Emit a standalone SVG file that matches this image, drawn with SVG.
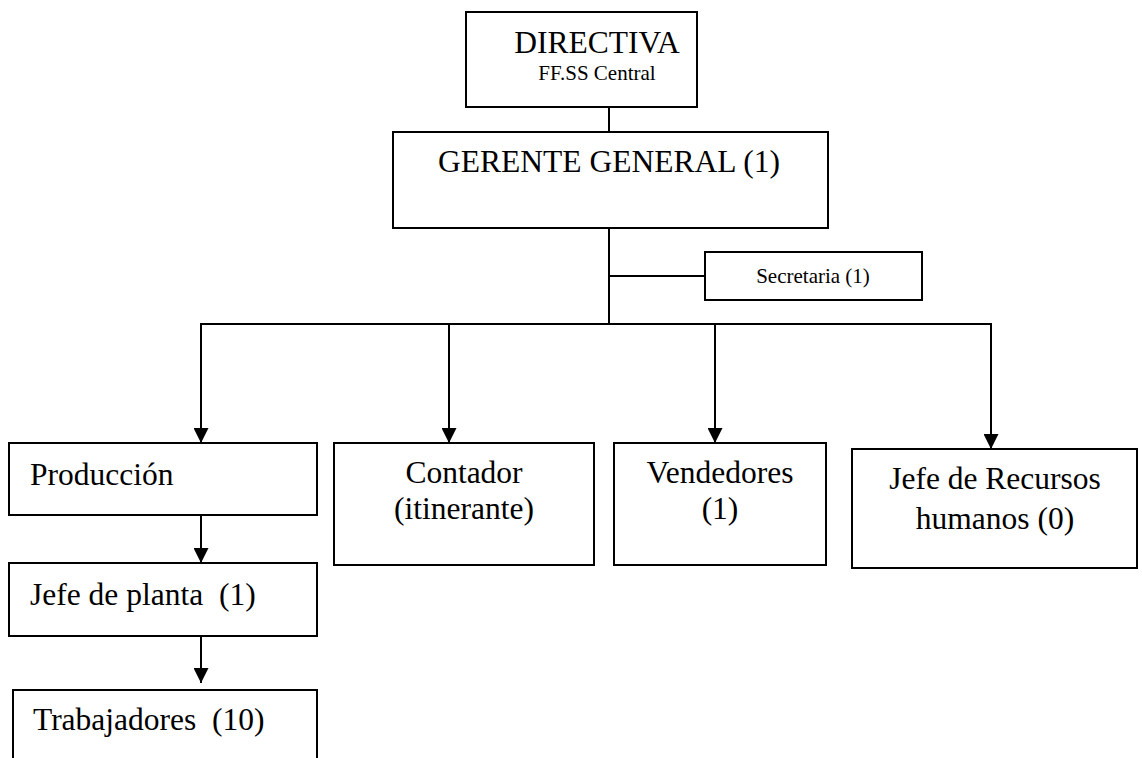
<svg xmlns="http://www.w3.org/2000/svg" width="1142" height="758" viewBox="0 0 1142 758">
<style>
.box{fill:#fff;stroke:#000;stroke-width:2}
.ln{fill:none;stroke:#000;stroke-width:2}
.t{font-family:"Liberation Serif","Times New Roman",serif;font-size:31.5px;fill:#000}
.s{font-family:"Liberation Serif","Times New Roman",serif;font-size:21px;fill:#000}
.m{text-anchor:middle}
</style>
<defs>
<marker id="arr" viewBox="0 0 10 10" refX="10" refY="5" markerWidth="15" markerHeight="15" markerUnits="userSpaceOnUse" orient="auto">
<path d="M0,0 L10,5 L0,10 Z" fill="#000"/>
</marker>
</defs>
<rect width="1142" height="758" fill="#fff"/>
<g id="connectors">
<line class="ln" x1="609" y1="107" x2="609" y2="132" stroke-width="1.5"/>
<line class="ln" x1="609" y1="228" x2="609" y2="324"/>
<line class="ln" x1="609" y1="276" x2="705" y2="276"/>
<line class="ln" x1="200" y1="324" x2="992" y2="324"/>
<line class="ln" x1="201" y1="323" x2="201" y2="443" marker-end="url(#arr)"/>
<line class="ln" x1="449" y1="324" x2="449" y2="443" marker-end="url(#arr)"/>
<line class="ln" x1="715" y1="324" x2="715" y2="443" marker-end="url(#arr)"/>
<line class="ln" x1="991" y1="324" x2="991" y2="449" marker-end="url(#arr)"/>
<line class="ln" x1="201" y1="515" x2="201" y2="563" marker-end="url(#arr)"/>
<line class="ln" x1="201" y1="636" x2="201" y2="683" marker-end="url(#arr)"/>
</g>
<g id="directiva">
<rect class="box" x="466" y="12" width="231" height="95"/>
<text class="t m" x="597" y="53">DIRECTIVA</text>
<text class="s m" x="597" y="80">FF.SS Central</text>
</g>
<g id="gerente">
<rect class="box" x="393" y="132" width="435" height="96"/>
<text class="t m" x="609" y="172">GERENTE GENERAL (1)</text>
</g>
<g id="secretaria">
<rect class="box" x="705" y="252" width="217" height="48"/>
<text class="s m" x="813" y="283">Secretaria (1)</text>
</g>
<g id="produccion">
<rect class="box" x="9" y="443" width="308" height="72"/>
<text class="t" x="30" y="485">Producción</text>
</g>
<g id="contador">
<rect class="box" x="334" y="443" width="260" height="122"/>
<text class="t m" x="464" y="483">Contador</text>
<text class="t m" x="464" y="519">(itinerante)</text>
</g>
<g id="vendedores">
<rect class="box" x="614" y="443" width="212" height="122"/>
<text class="t m" x="720" y="483">Vendedores</text>
<text class="t m" x="720" y="519">(1)</text>
</g>
<g id="rrhh">
<rect class="box" x="852" y="449" width="285" height="119"/>
<text class="t m" x="995" y="489">Jefe de Recursos</text>
<text class="t m" x="995" y="529">humanos (0)</text>
</g>
<g id="jefe-planta">
<rect class="box" x="9" y="563" width="308" height="73"/>
<text class="t" x="30" y="605" xml:space="preserve">Jefe de planta  (1)</text>
</g>
<g id="trabajadores">
<path class="ln" d="M13,760 L13,690 L317,690 L317,760"/>
<text class="t" x="33" y="730" xml:space="preserve">Trabajadores  (10)</text>
</g>
</svg>
